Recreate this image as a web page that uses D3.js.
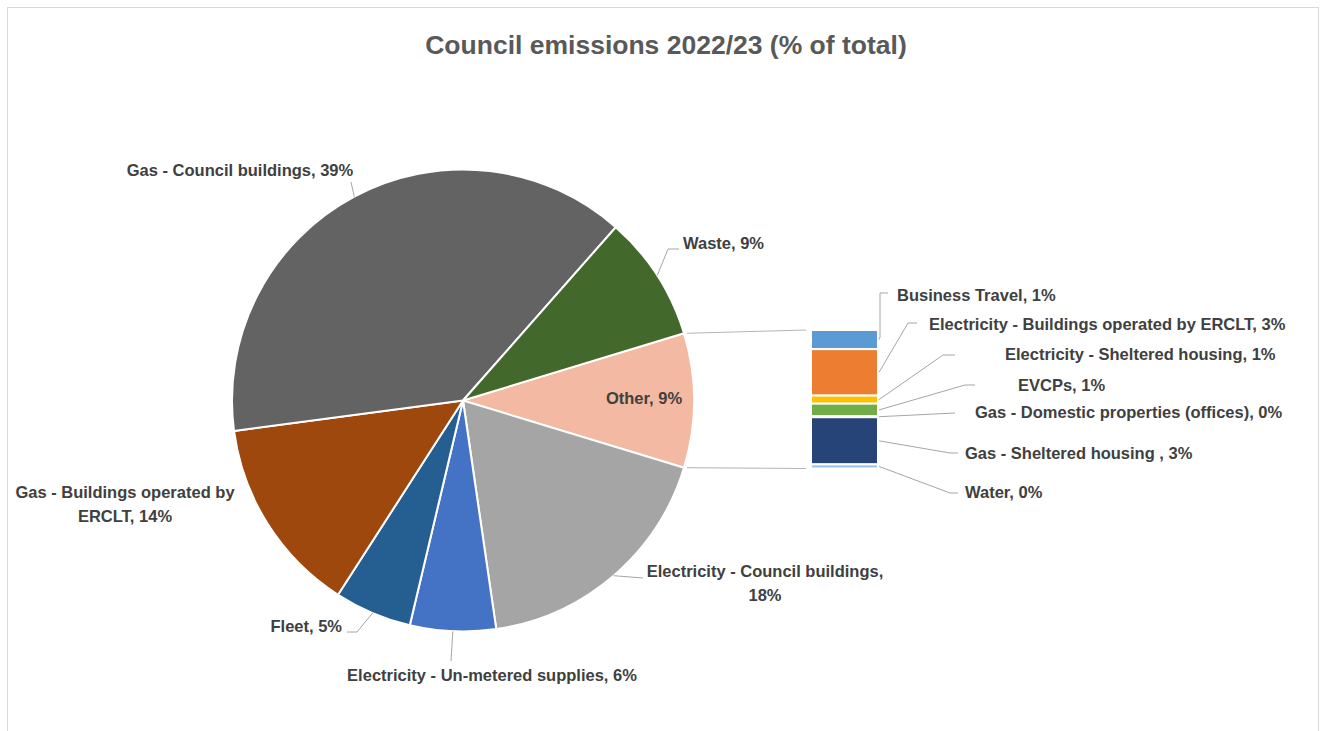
<!DOCTYPE html>
<html>
<head>
<meta charset="utf-8">
<script src="https://cdn.jsdelivr.net/npm/d3@7"></script>
<style>
  body { margin: 0; background: #fff; }
  text { font-family: "Liberation Sans", Arial, sans-serif; }
</style>
</head>
<body>
<script>
// main pie slices (percent of total), clockwise after "Other"
var mainNames = ["Electricity - Council buildings", "Electricity - Un-metered supplies", "Fleet",
	"Gas - Buildings operated by ERCLT", "Gas - Council buildings", "Waste"];
var mainValues = [18.0, 6.0, 5.4, 13.8, 38.6, 8.8];
var mainColors = ["#a5a5a5", "#4472c4", "#255e91", "#9e480e", "#636363", "#43682b"];

// secondary bar (split out of "Other"), top to bottom
var subNames = ["Business Travel", "Electricity - Buildings operated by ERCLT", "Electricity - Sheltered housing",
	"EVCPs", "Gas - Domestic properties (offices)", "Gas - Sheltered housing ", "Water"];
var subValues = [1.3, 3.15, 0.55, 0.85, 0.07, 3.2, 0.28];
var subColors = ["#5b9bd5", "#ed7d31", "#ffc000", "#70ad47", "#997300", "#264478", "#9dc3e6"];

var otherName = "Other", otherColor = "#f4b9a2";
var title = "Council emissions 2022/23 (% of total)";

var W = 1329, H = 731;
var cx = 463, cy = 400.5, r = 231;
var barX = 811, barW = 67, barTop = 330, barBottom = 468.5;
var labelColor = "#404040", leaderColor = "#a6a6a6";
var labelSize = 16.5, labelWeight = "bold";

var svg = d3.select("body").append("svg")
	.attr("width", W)
	.attr("height", H);

svg.append("rect")
	.attr("x", 7.5).attr("y", 7.5)
	.attr("width", 1311).attr("height", 740)
	.attr("fill", "#fff")
	.attr("stroke", "#d9d9d9");

svg.append("text")
	.attr("x", 666).attr("y", 45)
	.attr("dy", "0.35em")
	.attr("text-anchor", "middle")
	.attr("font-size", 26.5)
	.attr("font-weight", "bold")
	.attr("fill", "#595959")
	.text(title);

var otherValue = d3.sum(subValues);
var total = otherValue + d3.sum(mainValues);
var pct = d3.format(".0%");

var pieData = [{name: otherName, value: otherValue, color: otherColor}].concat(
	mainNames.map(function(n, i) { return {name: n, value: mainValues[i], color: mainColors[i]}; }));

// "Other" is centred on the 3 o'clock direction, facing the bar
var otherAngle = 2 * Math.PI * otherValue / total;
var a0 = Math.PI / 2 - otherAngle / 2;

var pie = d3.pie()
	.sort(null)
	.value(function(d) { return d.value; })
	.startAngle(a0)
	.endAngle(a0 + 2 * Math.PI);

var arcs = pie(pieData);
var arc = d3.arc().innerRadius(0).outerRadius(r);

var g = svg.append("g").attr("transform", "translate(" + cx + "," + cy + ")");

g.selectAll("path")
	.data(arcs)
	.enter().append("path")
	.attr("d", arc)
	.attr("fill", function(d) { return d.data.color; })
	.attr("stroke", "#fff")
	.attr("stroke-width", 2)
	.attr("stroke-linejoin", "round");

function edgePoint(angle, rr) {
	return [cx + rr * Math.sin(angle), cy - rr * Math.cos(angle)];
}

// connector lines between "Other" and the bar
var oArc = arcs[0];
var y = d3.scaleLinear().domain([0, otherValue]).range([barTop, barBottom]);
var pTop = edgePoint(oArc.startAngle, r), pBot = edgePoint(oArc.endAngle, r);
svg.append("line")
	.attr("x1", pTop[0] + 3).attr("y1", pTop[1])
	.attr("x2", barX - 5).attr("y2", y(0))
	.attr("stroke", "#b4b4b4").attr("stroke-width", 1);
svg.append("line")
	.attr("x1", pBot[0] + 3).attr("y1", pBot[1])
	.attr("x2", barX - 5).attr("y2", y(otherValue))
	.attr("stroke", "#b4b4b4").attr("stroke-width", 1);

// stacked bar
var cum = 0;
var subData = subNames.map(function(n, i) {
	var d = {name: n, value: subValues[i], color: subColors[i], y0: cum};
	cum += subValues[i];
	d.y1 = cum;
	return d;
});

svg.append("g").selectAll("rect")
	.data(subData)
	.enter().append("rect")
	.attr("x", barX)
	.attr("y", function(d) { return y(d.y0); })
	.attr("width", barW)
	.attr("height", function(d) { return Math.max(0, y(d.y1) - y(d.y0)); })
	.attr("fill", function(d) { return d.color; })
	.attr("stroke", "#fff")
	.attr("stroke-width", 2);

// label layout (text anchor position, leader bend points, line break)
var pieLabels = {
	"Other": {x: 644, y: 398.5, anchor: "middle", pts: null},
	"Electricity - Council buildings": {x: 765, y: 571, anchor: "middle", pts: [[643, 578]], brk: 4},
	"Electricity - Un-metered supplies": {x: 492, y: 675, anchor: "middle", pts: [[451, 661]]},
	"Fleet": {x: 342, y: 626, anchor: "end", pts: [[357, 632], [347, 632]]},
	"Gas - Buildings operated by ERCLT": {x: 125, y: 492, anchor: "middle", pts: null, brk: 5},
	"Gas - Council buildings": {x: 240, y: 170, anchor: "middle", pts: [[351, 182]]},
	"Waste": {x: 683, y: 243, anchor: "start", pts: [[668, 249], [679, 249]]}
};
var subLabels = {
	"Business Travel": {x: 897, y: 295, pts: [[880, 337], [880, 293], [888, 293]]},
	"Electricity - Buildings operated by ERCLT": {x: 929, y: 324, pts: [[908, 323], [917, 323]]},
	"Electricity - Sheltered housing": {x: 1005, y: 354, pts: [[943, 355], [955, 355]]},
	"EVCPs": {x: 1018, y: 385, pts: [[965, 385], [975, 385]]},
	"Gas - Domestic properties (offices)": {x: 975, y: 412, pts: [[955, 413]]},
	"Gas - Sheltered housing ": {x: 965, y: 453, pts: [[950, 453], [958, 453]]},
	"Water": {x: 965, y: 492, pts: [[950, 493], [958, 493]]}
};

var line = d3.line();
var labelLayer = svg.append("g");

function addLabel(txt, L) {
	var words = txt.split(" ");
	var lines = L.brk ? [words.slice(0, L.brk).join(" "), words.slice(L.brk).join(" ")] : [txt];
	var t = labelLayer.append("text")
		.attr("text-anchor", L.anchor || "start")
		.attr("font-size", labelSize)
		.attr("font-weight", labelWeight)
		.attr("fill", labelColor);
	lines.forEach(function(s, i) {
		t.append("tspan")
			.attr("x", L.x)
			.attr("y", L.y + i * 24)
			.attr("dy", "0.35em")
			.text(s);
	});
}

arcs.forEach(function(d) {
	var L = pieLabels[d.data.name];
	addLabel(d.data.name + ", " + pct(d.data.value / total), L);
	if (L.pts) {
		var p = edgePoint((d.startAngle + d.endAngle) / 2, r);
		svg.append("path")
			.attr("d", line([p].concat(L.pts)))
			.attr("fill", "none")
			.attr("stroke", leaderColor)
			.attr("stroke-width", 1);
	}
});

subData.forEach(function(d) {
	var L = subLabels[d.name];
	addLabel(d.name + ", " + pct(d.value / total), L);
	var p = [barX + barW + 1, y((d.y0 + d.y1) / 2)];
	svg.append("path")
		.attr("d", line([p].concat(L.pts)))
		.attr("fill", "none")
		.attr("stroke", leaderColor)
		.attr("stroke-width", 1);
});
</script>
</body>
</html>
